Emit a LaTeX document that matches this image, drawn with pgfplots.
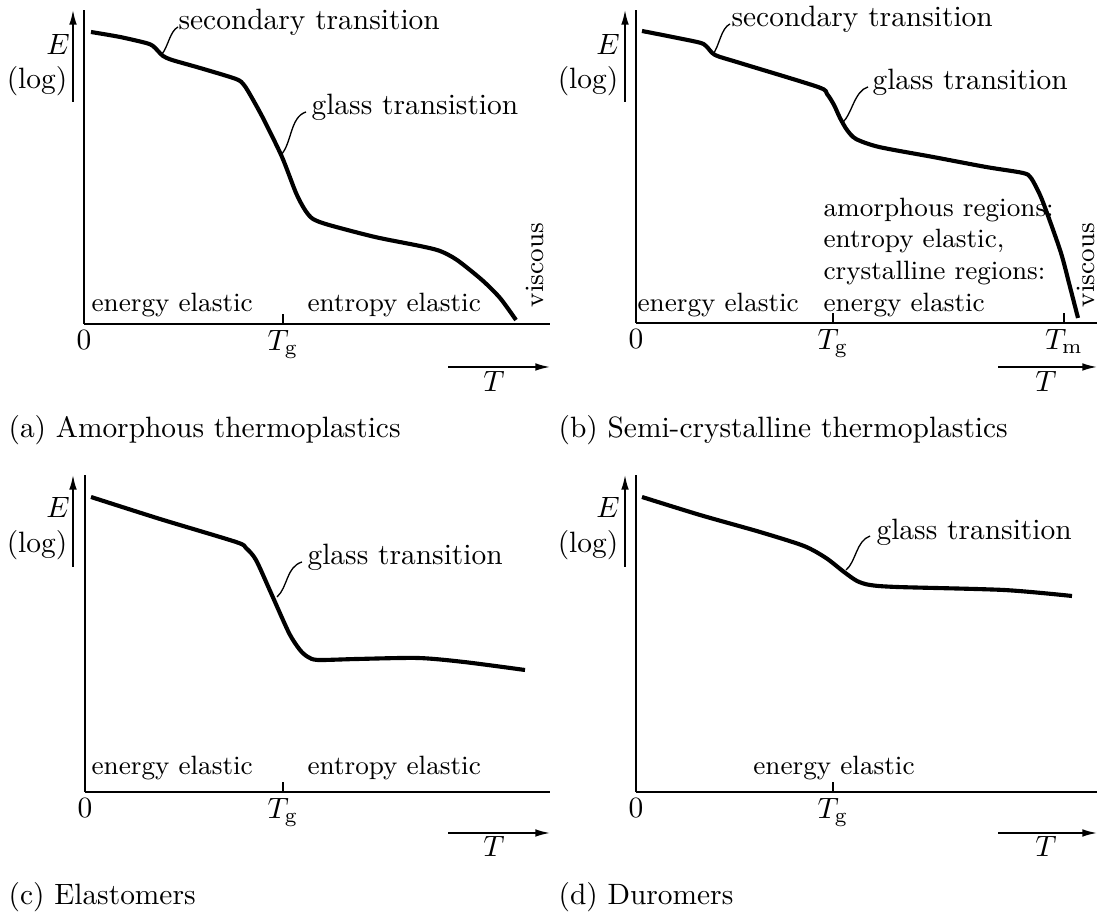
\documentclass[border=0pt]{standalone}
\usepackage{pgfplots}
\pgfplotsset{compat=1.18}
\usetikzlibrary{arrows.meta}

\pgfplotsset{
  panel/.style={
    anchor=south west,
    x=0.34pt, y=0.34pt,
    axis lines=left,
    axis line style={-, line width=0.55pt, black},
    every outer x axis line/.append style={-},
    every outer y axis line/.append style={-},
    every inner x axis line/.append style={-},
    every inner y axis line/.append style={-},
    ytick=\empty,
    tick align=inside,
    major tick length=3.4pt,
    tick style={line width=0.55pt, black},
    xticklabel style={inner sep=2pt},
    clip=false,
  },
  curve/.style={black, line width=1.4pt, smooth, tension=0.45, no marks},
}
\tikzset{
  lead/.style={black, line width=0.45pt},
  arr/.style={line width=0.55pt, -{Latex[length=5pt,width=2.6pt]}},
  reg/.style={anchor=base west, inner sep=0pt, font=\small},
}

\begin{document}
\begin{tikzpicture}[x=0.34pt,y=0.34pt]
\useasboundingbox (0,0) rectangle (1097,915);

% ---------------- (a) Amorphous thermoplastics
\begin{axis}[panel, at={(84*0.34pt,591*0.34pt)}, xmin=84, xmax=550, ymin=591, ymax=905,
  xtick={84,283}, xticklabels={$0$,$T_{\mathrm{g}}$}]
\addplot[curve] coordinates {
 (91,883) (120,878) (146,872) (153,869) (158,864) (163,859) (172,855)
 (200,847) (236,836) (244,830) (252,817) (264,795) (282,758) (296,722)
 (305,705) (313,696) (329,690) (375,678) (420,669) (440,664) (457,655)
 (482,635) (500,617) (516,595)};
\end{axis}

% ---------------- (b) Semi-crystalline thermoplastics
\begin{axis}[panel, at={(636*0.34pt,592*0.34pt)}, xmin=636, xmax=1097, ymin=592, ymax=905,
  xtick={636,833,1064}, xticklabels={$0$,$T_{\mathrm{g}}$,$T_{\mathrm{m}}$}]
\addplot[curve] coordinates {
 (642,884) (697,873) (706,869) (715,860) (740,852) (818,828) (827,821)
 (834,810) (840,797) (847,785) (856,776) (879,768) (933,758) (986,748)
 (1023,742) (1031,737) (1040,720) (1047,702) (1061,662) (1070,628) (1078,597)};
\end{axis}

% ---------------- (c) Elastomers
\begin{axis}[panel, at={(85*0.34pt,123*0.34pt)}, xmin=85, xmax=550, ymin=123, ymax=440,
  xtick={85,283}, xticklabels={$0$,$T_{\mathrm{g}}$}]
\addplot[curve] coordinates {
 (91,418) (160,396) (236,373) (246,367) (256,355) (271,322) (289,282)
 (300,265) (308,258) (318,255) (357,256) (418,257) (464,253) (525,245)};
\end{axis}

% ---------------- (d) Duromers
\begin{axis}[panel, at={(636*0.34pt,123*0.34pt)}, xmin=636, xmax=1097, ymin=123, ymax=440,
  xtick={636,833}, xticklabels={$0$,$T_{\mathrm{g}}$}]
\addplot[curve] coordinates {
 (642,418) (700,400) (760,383) (804,369) (826,357) (844,343) (857,334)
 (870,330) (897,328) (1004,325) (1072,319)};
\end{axis}

% ---------- annotations (a)
\draw[arr] (73,813) -- (73,905);
\node[anchor=base] at (58,860) {$E$};
\node[anchor=base] at (37,826) {(log)};
\draw[arr] (448,548) -- (550,548);
\node[anchor=base] at (494,523) {$T$};
\node[anchor=base west, inner sep=0pt] at (178,885) {secondary transition};
\draw[lead] (162,861) .. controls (168,868) and (170,884) .. (178,888);
\node[anchor=base west, inner sep=0pt] at (311,800) {glass transistion};
\draw[lead] (281,760) .. controls (292,772) and (290,798) .. (306,803);
\node[reg] at (91,603) {energy elastic};
\node[reg] at (307,603) {entropy elastic};
\node[rotate=90, anchor=base, inner sep=0pt, font=\small] at (543,650) {viscous};
\node[anchor=base west, inner sep=0pt] at (8,477) {(a) Amorphous thermoplastics};

% ---------- annotations (b)
\draw[arr] (625,813) -- (625,905);
\node[anchor=base] at (608,860) {$E$};
\node[anchor=base] at (588,826) {(log)};
\draw[arr] (998,548) -- (1097,548);
\node[anchor=base] at (1046,523) {$T$};
\node[anchor=base west, inner sep=0pt] at (731,888) {secondary transition};
\draw[lead] (713,861) .. controls (719,868) and (721,887) .. (730,891);
\node[anchor=base west, inner sep=0pt] at (872,825) {glass transition};
\draw[lead] (842,792) .. controls (852,800) and (854,824) .. (868,828);
\node[reg] at (823,698) {amorphous regions:};
\node[reg] at (823,667) {entropy elastic,};
\node[reg] at (823,635) {crystalline regions:};
\node[reg] at (823,603) {energy elastic};
\node[reg] at (637,603) {energy elastic};
\node[rotate=90, anchor=base, inner sep=0pt, font=\small] at (1094,650) {viscous};
\node[anchor=base west, inner sep=0pt] at (558,477) {(b) Semi-crystalline thermoplastics};

% ---------- annotations (c)
\draw[arr] (73,348) -- (73,440);
\node[anchor=base] at (58,397) {$E$};
\node[anchor=base] at (37,362) {(log)};
\draw[arr] (448,82) -- (550,82);
\node[anchor=base] at (494,58) {$T$};
\node[anchor=base west, inner sep=0pt] at (307,350) {glass transition};
\draw[lead] (277,318) .. controls (288,328) and (286,348) .. (302,353);
\node[reg] at (91,140) {energy elastic};
\node[reg] at (307,140) {entropy elastic};
\node[anchor=base west, inner sep=0pt] at (8,10) {(c) Elastomers};

% ---------- annotations (d)
\draw[arr] (625,348) -- (625,440);
\node[anchor=base] at (608,397) {$E$};
\node[anchor=base] at (588,362) {(log)};
\draw[arr] (998,82) -- (1097,82);
\node[anchor=base] at (1046,58) {$T$};
\node[anchor=base west, inner sep=0pt] at (876,375) {glass transition};
\draw[lead] (846,345) .. controls (856,353) and (856,374) .. (870,379);
\node[anchor=base, inner sep=0pt, font=\small] at (834,140) {energy elastic};
\node[anchor=base west, inner sep=0pt] at (558,10) {(d) Duromers};
\end{tikzpicture}
\end{document}
